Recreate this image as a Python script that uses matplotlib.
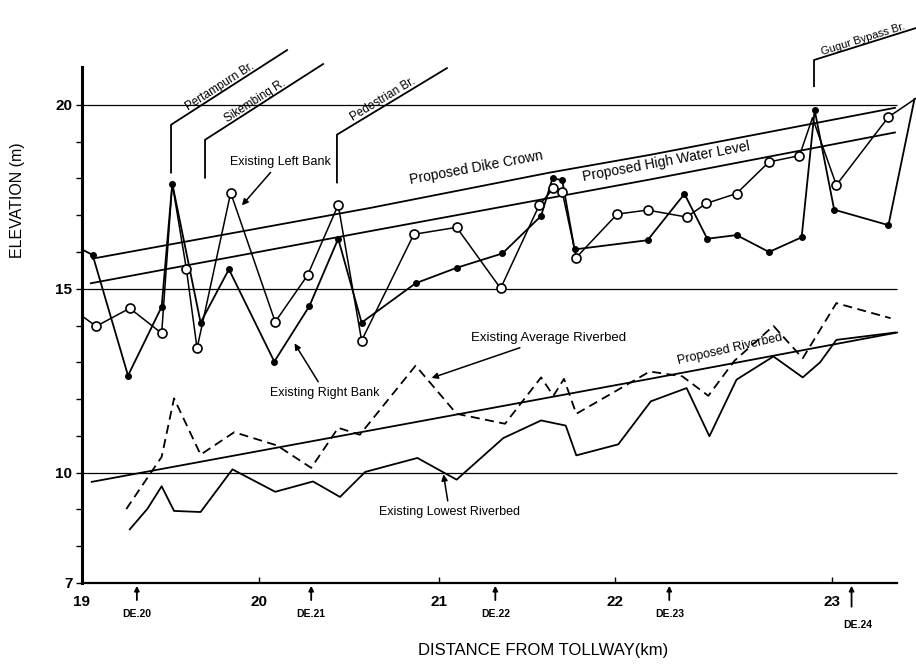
import numpy as np
import matplotlib
matplotlib.use('Agg')
import matplotlib.pyplot as plt

plt.rcParams['font.family'] = ['Liberation Sans', 'DejaVu Sans']

# ── Data ────────────────────────────────────────────────────────────────────
# existing right bank (filled dots)
rb_x = [19.00, 19.06, 19.26, 19.45, 19.51, 19.67, 19.83, 20.085, 20.28, 20.44,
        20.57, 20.87, 21.10, 21.36, 21.58, 21.645, 21.70, 21.77, 22.15, 22.32,
        22.425, 22.56, 22.71, 22.86, 22.92, 23.01, 23.26, 23.38]
rb_y = [16.07, 15.92, 12.64, 14.51, 17.86, 14.08, 15.53, 13.02, 14.53, 16.36,
        14.08, 15.15, 15.57, 15.96, 16.98, 18.01, 17.95, 16.07, 16.32, 17.58,
        16.36, 16.46, 16.00, 16.40, 19.86, 17.15, 16.73, 20.16]
rb_marked = list(range(1, 27))

# existing left bank (open circles)
lb_x = [19.00, 19.08, 19.27, 19.45, 19.51, 19.59, 19.65, 19.84, 20.09, 20.27,
        20.44, 20.57, 20.86, 21.10, 21.35, 21.57, 21.65, 21.70, 21.78, 22.01,
        22.15, 22.33, 22.42, 22.56, 22.71, 22.85, 22.91, 23.02, 23.26, 23.39]
lb_y = [14.26, 13.98, 14.47, 13.79, 17.86, 15.53, 13.38, 17.61, 14.10, 15.37,
        17.28, 13.59, 16.48, 16.67, 15.01, 17.28, 17.73, 17.64, 15.85, 17.03,
        17.14, 16.95, 17.32, 17.59, 18.45, 18.62, 19.65, 17.82, 19.67, 20.19]
lb_marked = [i for i in range(1, 29) if i not in (4, 26)]

# proposed dike crown / high water level / riverbed
dike_x = [19.06, 20.62, 21.63, 22.16, 23.29]
dike_y = [15.82, 17.20, 18.16, 18.64, 19.92]
hwl_x = [19.05, 20.62, 22.16, 23.29]
hwl_y = [15.15, 16.57, 17.97, 19.25]
prb_x = [19.055, 22.16, 23.30]
prb_y = [9.75, 12.55, 13.81]

# existing average riverbed (dashed)
avg_x = [19.25, 19.45, 19.52, 19.67, 19.86, 20.10, 20.29, 20.44, 20.56, 20.87,
         21.10, 21.375, 21.58, 21.65, 21.71, 21.78, 22.16, 22.31, 22.43, 22.55,
         22.73, 22.865, 23.02, 23.27]
avg_y = [9.01, 10.43, 12.02, 10.49, 11.10, 10.74, 10.13, 11.22, 11.03, 12.91,
         11.60, 11.33, 12.59, 12.09, 12.55, 11.60, 12.75, 12.62, 12.09, 13.04,
         13.99, 13.11, 14.61, 14.20]

# existing lowest riverbed
low_x = [19.27, 19.37, 19.45, 19.52, 19.67, 19.85, 20.09, 20.30, 20.45, 20.59,
         20.88, 21.10, 21.365, 21.58, 21.72, 21.78, 22.015, 22.165, 22.33, 22.435,
         22.56, 22.73, 22.865, 22.945, 23.02, 23.29]
low_y = [8.46, 9.02, 9.63, 8.96, 8.93, 10.09, 9.48, 9.76, 9.34, 10.02,
         10.40, 9.81, 10.94, 11.42, 11.28, 10.47, 10.77, 11.94, 12.30, 10.99,
         12.53, 13.16, 12.59, 13.00, 13.61, 13.81]

# DE stations
de_km = [19.31, 20.29, 21.32, 22.25, 23.09]
de_labels = ['DE.20', 'DE.21', 'DE.22', 'DE.23', 'DE.24']

x_ticks = [19, 20, 21, 22, 23]
y_ticks = [7, 10, 15, 20]
ref_levels = [10, 15, 20]

# bridges: label, km of pointer, y bottom, y bend, km end, y end
bridges = [
    ('Pertampurn Br.', 19.503, 18.16, 19.46, 20.156, 21.49),
    ('Sikembing R.', 19.695, 18.02, 19.05, 20.356, 21.11),
    ('Pedestrian Br.', 20.433, 17.89, 19.19, 21.045, 21.00),
    ('Gugur Bypass Br.', 22.917, 20.51, 21.22, 23.387, 22.09),
]

# the drawn km axis is not evenly spaced (22-23 is stretched)
BREAK_KM = [18, 19, 20, 21, 22, 23, 24]
BREAK_POS = [-177, 0, 177, 357, 533, 750, 967]


def fwd(x):
    return np.interp(x, BREAK_KM, BREAK_POS)


def inv(p):
    return np.interp(p, BREAK_POS, BREAK_KM)


fig = plt.figure(figsize=(9.16, 6.68), dpi=100)
ax = fig.add_axes([82 / 916, 85 / 668, 834 / 916, 516 / 668])
ax.set_xscale('function', functions=(fwd, inv))
ax.set_xlim(19, 23.387)
ax.set_ylim(7, 21.03)

K = 'black'
ax.hlines(ref_levels, 19, 23.30, color=K, lw=0.9)

ax.plot(dike_x, dike_y, color=K, lw=1.3)
ax.plot(hwl_x, hwl_y, color=K, lw=1.3)
ax.plot(prb_x, prb_y, color=K, lw=1.3)
ax.plot(avg_x, avg_y, color=K, lw=1.3, linestyle=(0, (5, 3)))
ax.plot(low_x, low_y, color=K, lw=1.3)

ax.plot(rb_x, rb_y, color=K, lw=1.3, marker='o', ms=4, mfc=K, mec=K,
        markevery=rb_marked, clip_on=False, zorder=3)
ax.plot(lb_x, lb_y, color=K, lw=1.1, marker='o', ms=6.5, mfc='white', mec=K,
        mew=1.2, markevery=lb_marked, clip_on=False, zorder=4)

# axes styling
for s in ('top', 'right'):
    ax.spines[s].set_visible(False)
ax.spines['left'].set_linewidth(2.2)
ax.spines['bottom'].set_linewidth(1.6)
ax.spines['bottom'].set_bounds(19, 23.30)

ax.set_xticks(x_ticks)
ax.set_xticklabels([str(t) for t in x_ticks], fontsize=11, fontweight='bold')
ax.set_yticks(y_ticks)
ax.set_yticklabels([str(t) for t in y_ticks], fontsize=11, fontweight='bold')
ax.set_yticks([v for v in range(8, 21) if v not in y_ticks], minor=True)
ax.tick_params(axis='x', direction='in', length=4, width=1, pad=9)
ax.tick_params(axis='y', which='both', direction='out', length=4, width=1, pad=3)
ax.xaxis.set_minor_locator(matplotlib.ticker.NullLocator())

fig.text(18 / 916, 1 - 200 / 668, 'ELEVATION (m)', rotation=90, ha='center',
         va='center', fontsize=11.5)
fig.text(543 / 916, 1 - 650 / 668, 'DISTANCE FROM TOLLWAY(km)', ha='center',
         va='center', fontsize=12)

# DE station arrows under the axis
for km, lab in zip(de_km, de_labels):
    last = lab == 'DE.24'
    ax.annotate('', xy=(km, 7.0), xytext=(km, 6.28 if last else 6.46),
                arrowprops=dict(arrowstyle='-|>', color=K, lw=1.3, mutation_scale=7),
                annotation_clip=False)
    ax.text(km + (0.03 if last else 0), 5.86 if last else 6.16, lab,
            ha='center', va='center', fontsize=7.5, fontweight='bold')

# bridge pointers
for name, xv, yb, yk, xe, ye in bridges:
    ax.plot([xv, xv, xe], [yb, yk, ye], color=K, lw=1.3, clip_on=False)
    p0 = ax.transData.transform((xv, yk))
    p1 = ax.transData.transform((xe, ye))
    ang = np.degrees(np.arctan2(p1[1] - p0[1], p1[0] - p0[0]))
    gugur = name.startswith('Gugur')
    pm = p0 + (0.5 if gugur else 0.45) * (p1 - p0)
    xm, ym = ax.transData.inverted().transform(pm)
    ax.text(xm, ym, name, rotation=ang, rotation_mode='anchor', ha='center',
            va='bottom', fontsize=8 if gugur else 8.5, clip_on=False)

# series labels
arrow = dict(arrowstyle='-|>', color=K, lw=1.1, mutation_scale=9)
ax.annotate('Existing Left Bank', xy=(19.893, 17.21), xytext=(20.117, 18.46),
            ha='center', va='center', fontsize=9, arrowprops=arrow)
ax.annotate('Existing Right Bank', xy=(20.189, 13.58), xytext=(20.367, 12.17),
            ha='center', va='center', fontsize=9, arrowprops=arrow)
ax.annotate('Existing Average Riverbed', xy=(20.944, 12.55), xytext=(21.62, 13.66),
            ha='center', va='center', fontsize=9.5, arrowprops=arrow)
ax.annotate('Existing Lowest Riverbed', xy=(21.023, 10.03), xytext=(21.06, 8.92),
            ha='center', va='center', fontsize=9, arrowprops=arrow)
ax.text(21.21, 18.29, 'Proposed Dike Crown', rotation=10.5, ha='center',
        va='center', fontsize=10)
ax.text(22.235, 18.46, 'Proposed High Water Level', rotation=10.5, ha='center',
        va='center', fontsize=10)
ax.text(22.53, 13.36, 'Proposed Riverbed', rotation=12.8, ha='center',
        va='center', fontsize=9)

fig.savefig('out.png', dpi=100, facecolor='white')
